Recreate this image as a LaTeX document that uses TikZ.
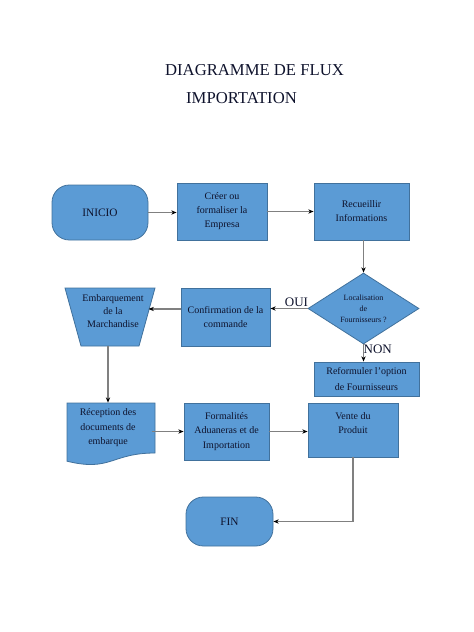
\documentclass[tikz,border=0pt]{standalone}
\usepackage{fontspec}
\setmainfont{Liberation Serif}
\usetikzlibrary{arrows.meta,shapes.geometric}
\definecolor{boxfill}{RGB}{91,155,213}
\definecolor{boxline}{RGB}{65,113,156}
\definecolor{txtc}{RGB}{14,18,44}
\definecolor{linec}{RGB}{128,128,128}
\begin{document}
\begin{tikzpicture}[x=0.75pt,y=0.75pt,yscale=-1,xscale=1,
  blk/.style={draw=boxline,fill=boxfill,line width=0.6pt,text=txtc,align=center,inner sep=0pt,font=\fontsize{7.5}{10.5}\selectfont},
  term/.style={blk,rounded corners=13pt,font=\fontsize{8.5}{10}\selectfont},
  arr/.style={draw=linec,line width=0.8pt,-{Stealth[length=4pt,width=3.2pt,color=black]}},
  lbl/.style={text=txtc,font=\fontsize{9.75}{11}\selectfont,inner sep=0.75pt}]
\useasboundingbox (0,0) rectangle (474,632);

% Title
\node[text=txtc,font=\fontsize{12.5}{14}\selectfont] (ttl1) at (254.5,70) {DIAGRAMME DE FLUX};
\node[text=txtc,font=\fontsize{12.5}{14}\selectfont] (ttl2) at (241.5,98) {IMPORTATION};

%Shape: Terminal
\node[term,minimum width=72pt,minimum height=41.25pt] (inicio) at (100,212.5) {INICIO};
%Shape: Rectangle
\node[blk,minimum width=67.5pt,minimum height=42.75pt] (creer) at (222,211.5) {Créer ou\\formaliser la\\Empresa};
%Shape: Rectangle
\node[blk,minimum width=71.25pt,minimum height=42.75pt] (recueil) at (361.5,211.5) {Recueillir\\Informations};
%Shape: Diamond
\node[blk,diamond,aspect=1.5,minimum width=83.25pt,minimum height=53.25pt,font=\fontsize{6}{8.25}\selectfont] (loc) at (363.5,308.5) {Localisation\\de\\Fournisseurs ?};
%Shape: Rectangle
\node[blk,minimum width=66.75pt,minimum height=43.5pt] (conf) at (225.5,317) {Confirmation de la\\commande};
%Shape: Trapezium
\draw[draw=boxline,fill=boxfill,line width=0.6pt] (65,288) -- (155,288) -- (139,346) -- (81,346) -- cycle;
\node[text=txtc,align=center,inner sep=0pt,font=\fontsize{7.5}{9.75}\selectfont] (emb) at (113,311) {Embarquement\\de la\\Marchandise};
\coordinate (embr) at (148.6,309);
\coordinate (embs) at (108,346);
%Shape: Rectangle
\node[blk,minimum width=78.75pt,minimum height=25.5pt,font=\fontsize{7.5}{12.5}\selectfont] (reform) at (366.5,379) {Reformuler l'option\\de Fournisseurs};
%Shape: Document
\draw[draw=boxline,fill=boxfill,line width=0.6pt] (67,403) -- (155,403) -- (155,453) .. controls (111,453) and (111,472) .. (67,461.2) -- cycle;
\node[inner sep=0pt,text=txtc,align=center,minimum width=66pt,minimum height=37.5pt,font=\fontsize{7.5}{10.9}\selectfont] (recep) at (108,428) {Réception des\\documents de\\embarque};
%Shape: Rectangle
\node[blk,minimum width=63.75pt,minimum height=42.75pt,font=\fontsize{7.5}{10.9}\selectfont] (form) at (226.5,431.5) {Formalités\\Aduaneras et de\\Importation};
%Shape: Rectangle
\node[blk,minimum width=67.5pt,minimum height=40.5pt,
  label={[text=txtc,align=center,font=\fontsize{7.5}{10.5}\selectfont,yshift=5pt]center:Vente du\\Produit}] (vente) at (353,430) {};
%Shape: Terminal
\node[term,minimum width=65.25pt,minimum height=36.75pt] (fin) at (229.5,521.5) {FIN};

% Connectors
\draw[arr] (inicio.east) -- (creer.west |- inicio.east);
\draw[arr] (creer.east) -- (recueil.west);
\draw[arr] (loc.north |- recueil.south) -- (loc.north);
\draw[arr] (loc.west) -- (conf.east |- loc.west) node[lbl,pos=0.3,above] {OUI};
\draw[arr] (conf.west |- embr) -- (embr);
\draw[arr] (loc.south) -- (loc.south |- reform.north) node[lbl,pos=0.3,right,xshift=-1pt] {NON};
\draw[arr] (embs) -- (embs |- recep.north);
\draw[arr] (recep.east |- form.west) -- (form.west);
\draw[arr] (form.east) -- (vente.west |- form.east);
\draw[arr] (vente.south) |- (fin.east);
\end{tikzpicture}
\end{document}
